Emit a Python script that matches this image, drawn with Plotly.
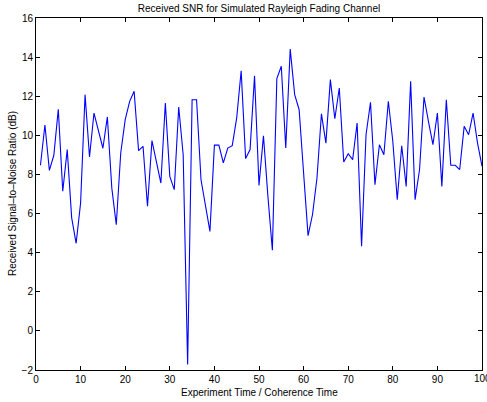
import plotly.graph_objects as go

x_vals = list(range(1, 101))
snr_db = [
    8.47, 10.53, 8.21, 8.98, 11.33, 7.14, 9.27, 5.78, 4.48, 6.54,
    12.08, 8.89, 11.14, 10.29, 9.34, 10.94, 7.3, 5.43, 9.1, 10.8,
    11.74, 12.25, 9.22, 9.44, 6.37, 9.73, 8.67, 7.56, 11.65, 7.9,
    7.22, 11.45, 9.01, -1.72, 11.82, 11.82, 7.73, 6.42, 5.09, 9.5,
    9.5, 8.59, 9.35, 9.47, 10.89, 13.3, 8.81, 9.27, 13.05, 7.44,
    9.98, 6.88, 4.12, 12.9, 13.53, 9.35, 14.41, 12.08, 11.31, 8.07,
    4.87, 5.95, 7.82, 11.1, 9.6, 12.85, 10.85, 12.42, 8.64, 9.06,
    8.76, 10.63, 4.33, 10.03, 11.69, 7.48, 9.52, 9.01, 11.74, 9.7,
    6.71, 9.47, 7.39, 12.76, 6.71, 8.25, 11.96, 10.7, 9.52, 11.14,
    7.39, 11.82, 8.47, 8.47, 8.25, 10.46, 10.03, 11.14, 9.6, 8.42,
]
x_ticks = list(range(0, 101, 10))
y_ticks = list(range(-2, 17, 2))

title_text = "Received SNR for Simulated Rayleigh Fading Channel"
x_title = "Experiment Time / Coherence Time"
y_title = "Received Signal–to–Noise Ratio (dB)"

font_family = "Liberation Sans, Arial, Helvetica, sans-serif"

fig = go.Figure()
fig.add_trace(go.Scatter(x=x_vals, y=snr_db, mode="lines",
                         line=dict(color="#0000FF", width=1.1)))

axis_common = dict(showgrid=False, zeroline=False, showline=True, linecolor="black",
                   linewidth=1, mirror="ticks", ticks="inside", ticklen=4,
                   tickcolor="black", tickwidth=1, automargin=False,
                   tickfont=dict(family=font_family, size=10, color="black"))

# last x tick label (cut off by the right edge, as in the reference)
last_tick = x_ticks[-1]

fig.update_layout(
    width=487, height=402,
    margin=dict(l=36, r=5, t=18, b=32),
    paper_bgcolor="white", plot_bgcolor="white",
    showlegend=False,
    font=dict(family=font_family, size=10, color="black"),
    title=dict(text=title_text, x=0.5, xref="paper", y=1 - 8.5 / 402, yref="container",
               xanchor="center", yanchor="middle",
               font=dict(family=font_family, size=10, color="black")),
    xaxis=dict(range=[0, 100], tickvals=x_ticks, **axis_common),
    yaxis=dict(range=[-2, 16], tickvals=y_ticks, **axis_common),
    annotations=[
        dict(text=x_title, x=0.5, xref="paper", y=-22 / 352, yref="paper",
             xanchor="center", yanchor="middle", showarrow=False,
             font=dict(family=font_family, size=10, color="black")),
        dict(text=y_title, x=(12 - 36) / 446, xref="paper", y=0.5, yref="paper",
             xanchor="center", yanchor="middle", showarrow=False, textangle=-90,
             font=dict(family=font_family, size=10, color="black")),
        dict(text=str(last_tick), x=last_tick, xref="x", y=0, yref="paper",
             xanchor="center", yanchor="top", yshift=-1, showarrow=False,
             font=dict(family=font_family, size=10, color="black")),
    ],
)

fig.write_html("out.html", config={"displayModeBar": False},
               post_script="document.body.style.margin='0';document.body.style.overflow='hidden';")
